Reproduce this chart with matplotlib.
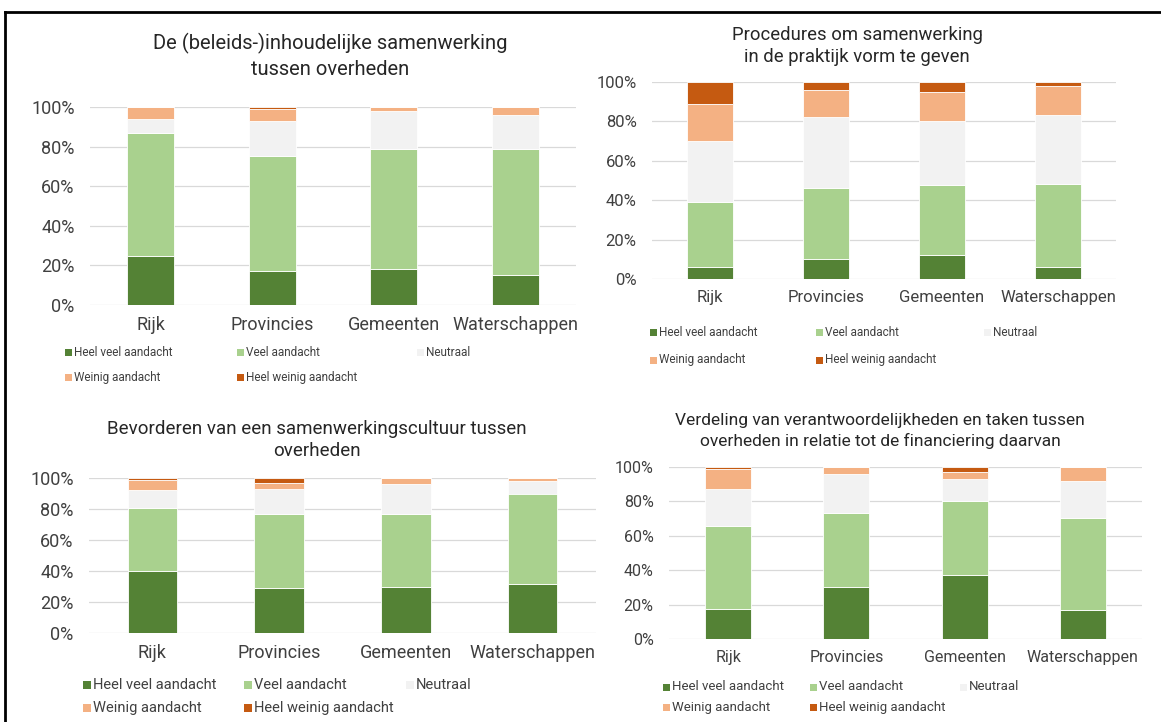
import numpy as np
import matplotlib
matplotlib.use('Agg')
import matplotlib.pyplot as plt
from matplotlib.patches import Rectangle
from matplotlib.lines import Line2D

W, H = 1161, 722

categories = ['Rijk', 'Provincies', 'Gemeenten', 'Waterschappen']
series_names = ['Heel veel aandacht', 'Veel aandacht', 'Neutraal',
                'Weinig aandacht', 'Heel weinig aandacht']
colors = ['#548235', '#A9D18E', '#F2F2F2', '#F4B183', '#C55A11']

# percentages per series (rows) for Rijk, Provincies, Gemeenten, Waterschappen
inhoud_vals = [
    [25, 17, 18, 15],
    [62, 58.5, 61, 64],
    [7, 17.5, 19, 17],
    [6, 6, 2, 4],
    [0, 1, 0, 0],
]
procedures_vals = [
    [6, 10, 12, 6],
    [33, 36, 35.5, 42],
    [31, 36, 32.5, 35],
    [19, 14, 15, 15],
    [11, 4, 5, 2],
]
cultuur_vals = [
    [40, 29, 30, 31.5],
    [40.5, 48, 47, 58.5],
    [11.5, 16, 19, 8],
    [7, 4, 4, 2],
    [1, 3, 0, 0],
]
verdeling_vals = [
    [17.5, 30, 37.5, 17],
    [48, 43.5, 42.5, 53.5],
    [22, 22.5, 13, 21.5],
    [11.5, 4, 4, 8],
    [1, 0, 3, 0],
]

titles = [
    'De (beleids-)inhoudelijke samenwerking\ntussen overheden',
    'Procedures om samenwerking\nin de praktijk vorm te geven',
    'Bevorderen van een samenwerkingscultuur tussen\noverheden',
    'Verdeling van verantwoordelijkheden en taken tussen\noverheden in relatie tot de financiering daarvan',
]

plt.rcParams['font.family'] = ['Roboto', 'DejaVu Sans']
TXT = '#404040'

fig = plt.figure(figsize=(W / 100, H / 100), dpi=100)


def px_axes(left, top, right, bottom):
    return fig.add_axes([left / W, 1 - bottom / H, (right - left) / W, (bottom - top) / H])


def fx(x):
    return x / W


def fy(y):
    return 1 - y / H


def draw_panel(box, vals, title, title_xy, tick_fs, title_fs):
    ax = px_axes(*box)
    x = np.arange(len(categories))
    bottom = np.zeros(len(categories))
    for row, c in zip(vals, colors):
        row = np.array(row, dtype=float)
        ax.bar(x, row, bottom=bottom, width=0.39, color=c, edgecolor='white',
               linewidth=0.6, zorder=3)
        bottom += row
    ax.set_xlim(-0.5, len(categories) - 0.5)
    ax.set_ylim(0, 100)
    ax.set_yticks(range(0, 101, 20))
    ax.set_yticklabels([f'{v}%' for v in range(0, 101, 20)])
    ax.set_xticks(x)
    ax.set_xticklabels(categories)
    ax.tick_params(length=0, labelsize=tick_fs, colors=TXT, pad=11)
    ax.tick_params(axis='x', pad=8)
    ax.grid(axis='y', color='#D9D9D9', linewidth=0.9, zorder=0)
    for s in ax.spines.values():
        s.set_visible(False)
    fig.text(fx(title_xy[0]), fy(title_xy[1]), title, ha='center', va='center',
             fontsize=title_fs, color='#262626', linespacing=1.35)
    return ax


def draw_legend(cols_x, rows_y, size, fs, family=None):
    pos = [(cols_x[0], rows_y[0]), (cols_x[1], rows_y[0]), (cols_x[2], rows_y[0]),
           (cols_x[0], rows_y[1]), (cols_x[1], rows_y[1])]
    for (lx, ly), name, c in zip(pos, series_names, colors):
        fig.patches.append(Rectangle((fx(lx), fy(ly + size / 2)), size / W, size / H,
                                     transform=fig.transFigure, facecolor=c,
                                     edgecolor='none'))
        kw = {}
        if family:
            kw['family'] = family
        fig.text(fx(lx + size + 2), fy(ly), name, ha='left', va='center',
                 fontsize=fs, color=TXT, **kw)


draw_panel((90, 107, 576, 305), inhoud_vals, titles[0], (330, 56), 13, 14.5)
draw_legend((65, 237, 417), (352, 377), 7, 8.5)

draw_panel((652, 82, 1116, 279), procedures_vals, titles[1], (857, 46), 12, 13.3)
draw_legend((650, 816, 984), (333, 360), 7, 8.5)

draw_panel((89, 478, 596, 633), cultuur_vals, titles[2], (317, 440), 13, 13.5)
draw_legend((83, 244, 406), (685, 708), 8, 10.5)

draw_panel((669, 467, 1142, 639), verdeling_vals, titles[3], (880, 431), 11.5, 12.5)
draw_legend((663, 810, 960), (687, 707), 7, 9.5,
            family=['Liberation Sans Narrow', 'Roboto'])

# frame of the figure box
fig.add_artist(Line2D([fx(5), fx(1165)], [fy(12), fy(12)], color='black',
                      linewidth=2, transform=fig.transFigure))
fig.add_artist(Line2D([fx(5), fx(5)], [fy(12), fy(730)], color='black',
                      linewidth=2, transform=fig.transFigure))

fig.savefig('out.png', dpi=100)
